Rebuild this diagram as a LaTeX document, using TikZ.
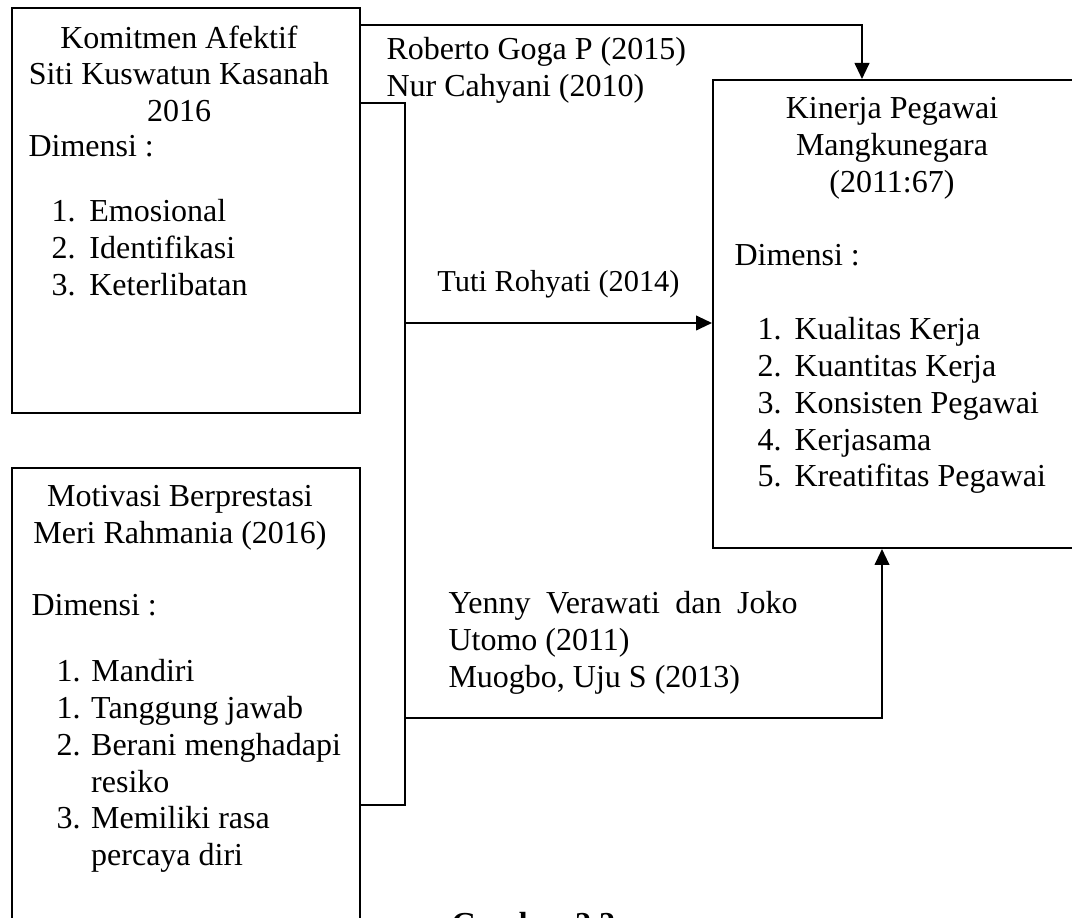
\documentclass[tikz,border=0pt]{standalone}
\usepackage{fontspec}
\setmainfont{Liberation Serif}
\usetikzlibrary{arrows.meta,fit}

\begin{document}
\begin{tikzpicture}[x=0.375pt,y=-0.375pt,
	box/.style={draw,line width=0.75pt,inner sep=0pt},
	txt/.style={inner sep=0pt,font=\fontsize{12}{13.8}\selectfont},
	arr/.style={line width=0.75pt,-{Triangle[length=6pt,width=5.5pt]}}]

	\useasboundingbox (0,0) rectangle (1072,918);
	\clip (0,0) rectangle (1072,918);

	\node[box, fit={(12,8) (360,413)}] (afektif) {};
	\node[box, fit={(12,468) (360,940)}] (motivasi) {};
	\node[box, fit={(713,80) (1090,548)}] (kinerja) {};

	\node[txt, anchor=north, align=center] (afektiftitle) at ([shift={(168,18)}]afektif.north west) {Komitmen Afektif\\Siti Kuswatun Kasanah\\2016};
	\node[txt, anchor=north west] (afektifdim) at ([shift={(17,128)}]afektif.north west) {Dimensi :};
	\node[txt, anchor=north west, align=left] (afektiflist) at ([shift={(40,192)}]afektif.north west) {1.\hspace{5.2pt}Emosional\\2.\hspace{5.2pt}Identifikasi\\3.\hspace{5.2pt}Keterlibatan};

	\node[txt, anchor=north, align=center] (motivasititle) at ([shift={(169,18)}]motivasi.north west) {Motivasi Berprestasi\\Meri Rahmania (2016)};
	\node[txt, anchor=north west] (motivasidim) at ([shift={(20,127)}]motivasi.north west) {Dimensi :};
	\node[txt, anchor=north west, align=left] (motivasilist) at ([shift={(45,192)}]motivasi.north west) {1.\hspace{4.1pt}Mandiri\\1. Tanggung jawab\\2. Berani menghadapi\\\phantom{2. }resiko\\3. Memiliki rasa\\\phantom{3. }percaya diri};

	\node[txt, anchor=north, align=center] (kinerjatitle) at ([shift={(180,18)}]kinerja.north west) {Kinerja Pegawai\\Mangkunegara\\(2011:67)};
	\node[txt, anchor=north west] (kinerjadim) at ([shift={(22,165)}]kinerja.north west) {Dimensi :};
	\node[txt, anchor=north west, align=left] (kinerjalist) at ([shift={(45,238)}]kinerja.north west) {1.\hspace{4.9pt}Kualitas Kerja\\2.\hspace{4.9pt}Kuantitas Kerja\\3.\hspace{4.9pt}Konsisten Pegawai\\4.\hspace{4.9pt}Kerjasama\\5.\hspace{4.9pt}Kreatifitas Pegawai};

	\coordinate (topbend) at (862,25);
	\coordinate (spine) at (405,103);
	\coordinate (spineend) at (405,805);
	\coordinate (tutiy) at (405,323);
	\coordinate (botbend) at (882,718);

	\draw[arr] (afektif.east |- topbend) -| (kinerja.north -| topbend);
	\node[txt, anchor=north west, align=left] (roberto) at (386,37) {Roberto Goga P (2015)\\Nur Cahyani (2010)};

	\draw[line width=0.75pt] (afektif.east |- spine) -- (spine) -- (spineend) -- (motivasi.east |- spineend);
	\path[arr] (tutiy) edge node[txt, above=8.8pt, font=\fontsize{11.4}{13}\selectfont] {Tuti Rohyati (2014)} (kinerja.west |- tutiy);

	\draw[arr] (spine |- botbend) -| (kinerja.south -| botbend);
	\node[txt, anchor=north west, align=left] (yenny) at (448,591) {\makebox[130.9pt][s]{Yenny Verawati dan Joko}\\Utomo (2011)\\Muogbo, Uju S (2013)};

	% caption runs off the page, as in the scan
	\node[txt, anchor=north west, font=\fontsize{12}{13.8}\selectfont\bfseries] (gambar) at (451,912) {Gambar 2.2};

\end{tikzpicture}
\end{document}
